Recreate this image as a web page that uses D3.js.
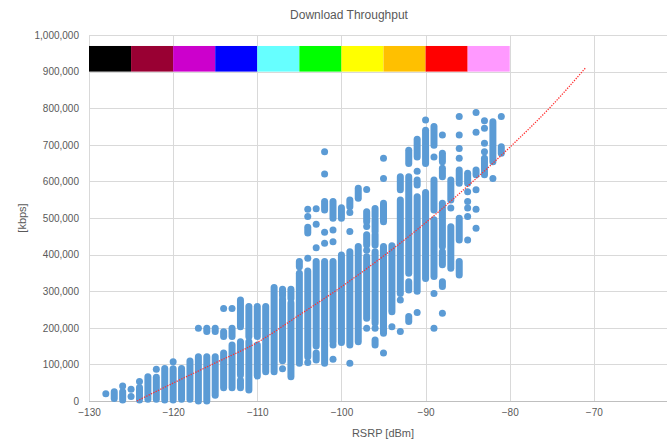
<!DOCTYPE html>
<html>
<head>
<meta charset="utf-8">
<script src="https://cdn.jsdelivr.net/npm/d3@7"></script>
<style>
  body { margin: 0; background: #fff; }
  svg { display: block; font-family: "Liberation Sans", Arial, sans-serif; }
</style>
</head>
<body>
<svg id="chart" width="667" height="440"></svg>
<script>
// RSRP columns (dBm) and the throughput ranges seen in each column, in thousands of kbps.
// A range [a, a] is a single point, [lo, hi] is a run of stacked points.
const rsrpValues = [-128, -127, -126, -125, -124, -123, -122, -121, -120, -119, -118, -117, -116, -115,
  -114, -113, -112, -111, -110, -109, -108, -107, -106, -105, -104, -103, -102, -101, -100,
  -99, -98, -97, -96, -95, -94, -93, -92, -91, -90, -89, -88, -87, -86, -85, -84, -83, -82, -81];

const throughputRanges = [
  [[20, 20]],
  [[7, 25]],
  [[3, 25], [41, 41]],
  [[12, 12], [32, 32]],
  [[3, 37], [53, 53]],
  [[5, 66]],
  [[5, 65], [87, 87]],
  [[3, 89]],
  [[3, 88], [107, 107]],
  [[5, 89]],
  [[5, 109]],
  [[0, 121], [199, 199]],
  [[0, 121], [190, 199]],
  [[16, 121], [190, 199]],
  [[36, 131], [176, 189], [253, 253]],
  [[36, 153], [176, 199], [253, 253]],
  [[36, 57], [71, 162], [203, 276]],
  [[30, 162], [176, 258]],
  [[68, 153], [176, 258]],
  [[80, 258]],
  [[80, 310]],
  [[88, 88], [110, 278], [287, 305]],
  [[66, 268], [280, 305]],
  [[103, 349], [367, 381]],
  [[105, 105], [121, 355], [390, 390], [459, 475], [504, 504], [524, 524]],
  [[112, 131], [150, 381], [419, 419], [483, 483], [525, 525]],
  [[103, 381], [431, 431], [461, 461], [522, 545], [620, 620], [681, 681]],
  [[114, 114], [153, 153], [162, 381], [435, 435], [467, 467], [499, 545]],
  [[160, 399], [499, 528]],
  [[103, 103], [153, 408], [463, 463], [515, 515], [531, 549]],
  [[162, 422], [554, 581]],
  [[199, 199], [226, 394], [412, 412], [426, 454], [477, 477], [490, 517], [578, 578]],
  [[153, 167], [199, 199], [213, 408], [426, 454], [463, 495], [504, 526]],
  [[131, 131], [185, 422], [490, 540], [608, 608], [663, 663]],
  [[203, 203], [244, 244], [250, 424]],
  [[190, 190], [276, 276], [294, 549], [577, 613]],
  [[217, 231], [303, 326], [349, 613], [649, 685]],
  [[242, 242], [300, 558], [590, 604], [628, 628], [667, 715]],
  [[335, 570], [649, 740], [768, 768]],
  [[199, 199], [294, 294], [340, 495], [522, 604], [667, 667], [699, 750]],
  [[240, 240], [313, 326], [372, 408], [422, 540], [613, 636], [654, 677], [727, 727]],
  [[363, 476], [527, 527], [549, 604]],
  [[344, 381], [440, 499], [595, 631], [663, 663], [690, 690], [727, 727], [777, 777]],
  [[440, 440], [504, 504], [527, 527], [545, 545], [572, 572], [595, 622]],
  [[472, 472], [524, 524], [577, 577], [618, 631], [734, 734], [788, 788]],
  [[618, 663], [681, 681], [704, 704], [745, 745], [766, 766]],
  [[608, 608], [654, 763]],
  [[677, 695], [777, 777]]
];

// trendline (dBm, thousands of kbps)
const trendRsrp = [-124.3, -120, -115, -110, -105, -100, -95, -90, -85, -80, -75, -71];
const trendValues = [0, 49, 104, 160, 235, 312, 396, 487, 587, 693, 807, 910];

// colour band across the top
const bandStarts = [-130, -125, -120, -115, -110, -105, -100, -95, -90, -85];
const bandColors = ["#000000", "#990033", "#CC00CC", "#0000FF", "#66FFFF",
  "#00FF00", "#FFFF00", "#FFC000", "#FF0000", "#FF99FF"];
const bandWidth = 5;
const bandLow = 900000;
const bandHigh = 970000;

const xTicks = [-130, -120, -110, -100, -90, -80, -70, -60];
const yTicks = [0, 100000, 200000, 300000, 400000, 500000, 600000, 700000, 800000, 900000, 1000000];

const margin = { left: 89, top: 35, bottom: 401 };
const plotRight = 678;

const svg = d3.select("#chart");

const x = d3.scaleLinear().domain([-130, -60]).range([margin.left, plotRight]);
const y = d3.scaleLinear().domain([0, 1000000]).range([margin.bottom, margin.top]);

// gridlines
svg.append("g")
  .selectAll("line")
  .data(yTicks.slice(1))
  .enter().append("line")
  .attr("x1", margin.left).attr("x2", plotRight)
  .attr("y1", d => Math.round(y(d)) + 0.5).attr("y2", d => Math.round(y(d)) + 0.5)
  .attr("stroke", "#D9D9D9");

svg.append("g")
  .selectAll("line")
  .data(xTicks)
  .enter().append("line")
  .attr("x1", d => Math.round(x(d)) + 0.5).attr("x2", d => Math.round(x(d)) + 0.5)
  .attr("y1", margin.top).attr("y2", margin.bottom)
  .attr("stroke", "#D9D9D9");

// colour band
svg.append("g")
  .selectAll("rect")
  .data(bandStarts)
  .enter().append("rect")
  .attr("x", d => x(d))
  .attr("width", d => x(d + bandWidth) - x(d))
  .attr("y", y(bandHigh))
  .attr("height", y(bandLow) - y(bandHigh))
  .attr("fill", (d, i) => bandColors[i]);

// bottom axis line
svg.append("line")
  .attr("x1", margin.left).attr("x2", plotRight)
  .attr("y1", margin.bottom + 0.5).attr("y2", margin.bottom + 0.5)
  .attr("stroke", "#BFBFBF");

// axes labels
const yAxis = svg.append("g")
  .attr("transform", "translate(" + (margin.left - 7) + ",0)")
  .call(d3.axisLeft(y).tickValues(yTicks).tickFormat(d3.format(",")).tickSize(0));
yAxis.select(".domain").remove();
yAxis.selectAll("text").attr("fill", "#595959").style("font-size", "10px");

const xAxis = svg.append("g")
  .attr("transform", "translate(0," + (margin.bottom + 5) + ")")
  .call(d3.axisBottom(x).tickValues(xTicks.slice(0, -1)).tickFormat(d3.format("d")).tickSize(0));
xAxis.select(".domain").remove();
xAxis.selectAll("text").attr("fill", "#595959").style("font-size", "10px");

// points
const pointRadius = 3.5;
const cols = svg.append("g").attr("fill", "#5B9BD5");
rsrpValues.forEach((v, i) => {
  cols.selectAll(null)
    .data(throughputRanges[i])
    .enter().append("rect")
    .attr("x", x(v) - pointRadius)
    .attr("width", pointRadius * 2)
    .attr("y", d => y(d[1] * 1000) - pointRadius)
    .attr("height", d => y(d[0] * 1000) - y(d[1] * 1000) + pointRadius * 2)
    .attr("rx", pointRadius);
});

// trendline
const trendLine = d3.line()
  .x(d => x(d[0]))
  .y(d => y(d[1] * 1000))
  .curve(d3.curveMonotoneX);

svg.append("path")
  .datum(trendRsrp.map((v, i) => [v, trendValues[i]]))
  .attr("d", trendLine)
  .attr("fill", "none")
  .attr("stroke", "#FF3030")
  .attr("stroke-width", 1.3)
  .attr("stroke-dasharray", "1.3 1.3");

// titles
svg.append("text")
  .attr("x", 349).attr("y", 19)
  .attr("text-anchor", "middle")
  .style("font-size", "12px")
  .attr("fill", "#595959")
  .text("Download Throughput");

svg.append("text")
  .attr("x", 383).attr("y", 437)
  .attr("text-anchor", "middle")
  .style("font-size", "11px")
  .attr("fill", "#595959")
  .text("RSRP [dBm]");

svg.append("text")
  .attr("transform", "translate(26," + ((margin.top + margin.bottom) / 2) + ") rotate(-90)")
  .attr("text-anchor", "middle")
  .style("font-size", "11px")
  .attr("fill", "#595959")
  .text("[kbps]");
</script>
</body>
</html>
